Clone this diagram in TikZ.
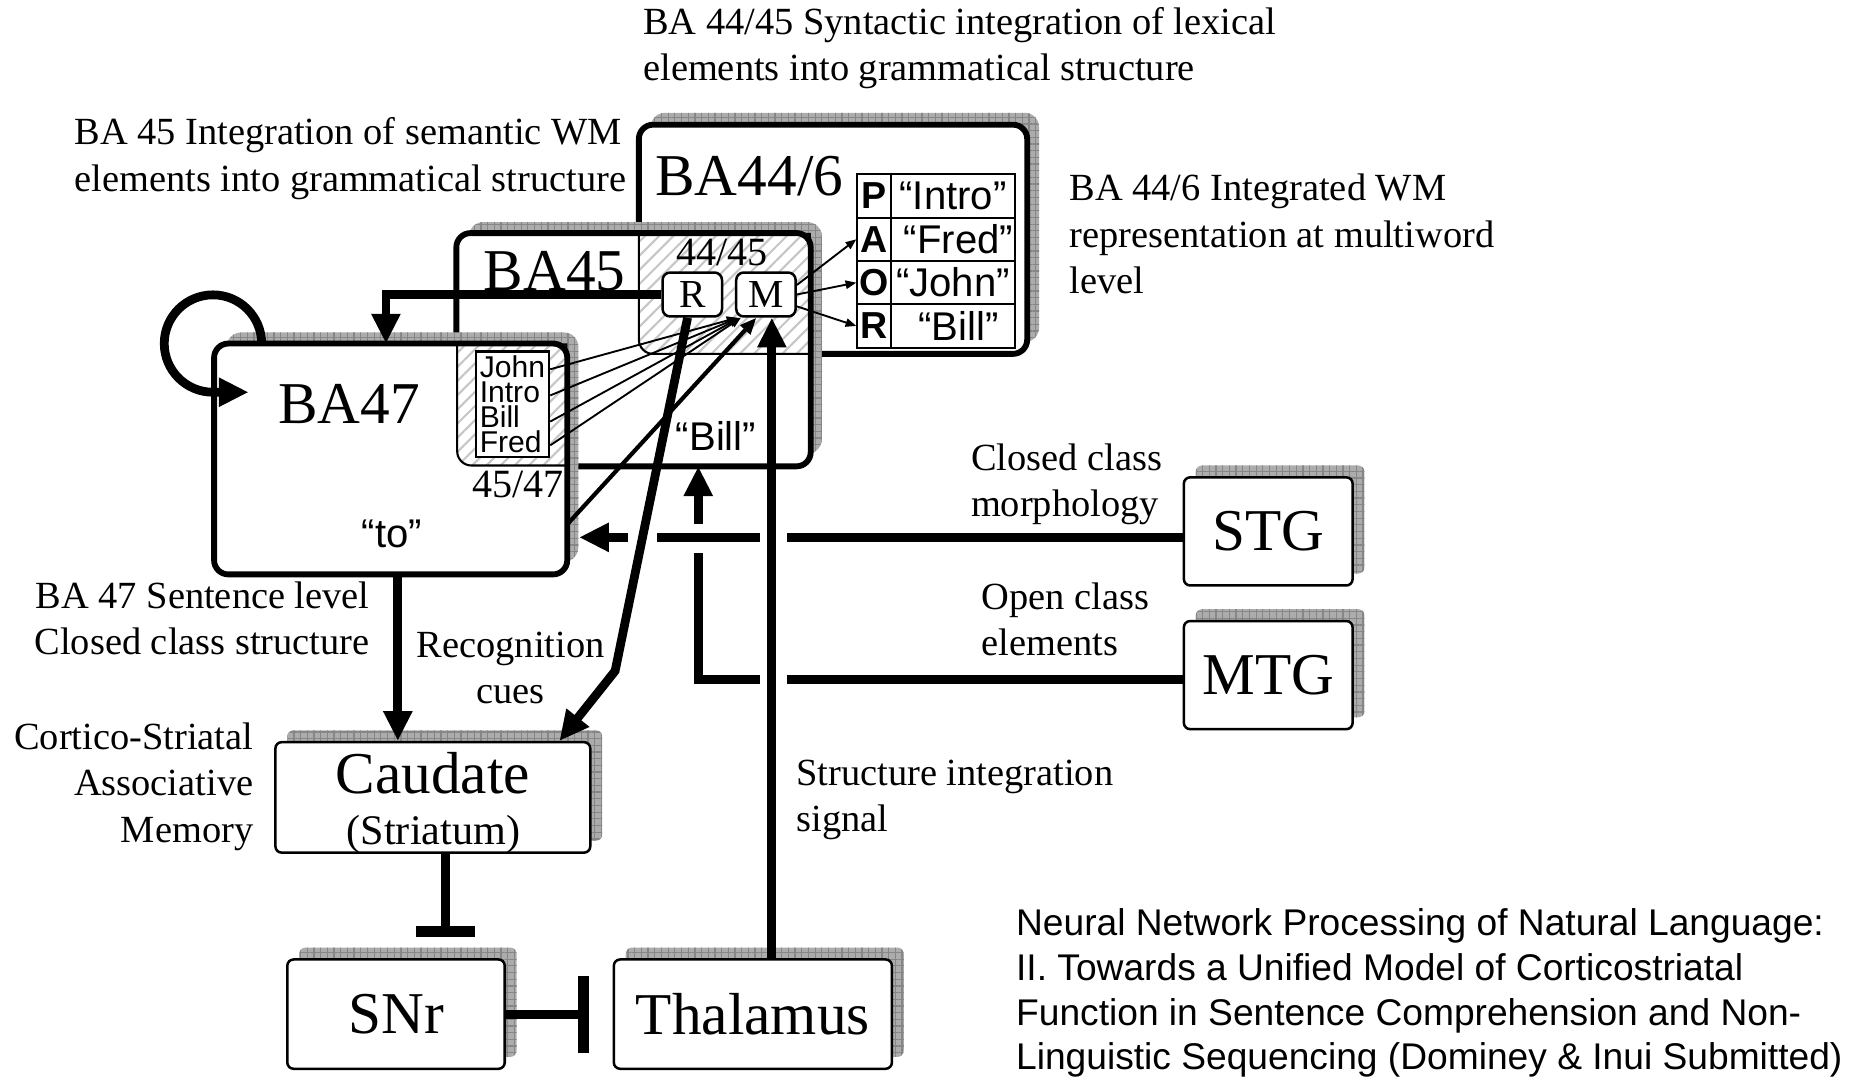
\documentclass[tikz,border=0pt]{standalone}
\usepackage{fontspec}
\setmainfont{Liberation Serif}
\newfontfamily\arialfont{Liberation Sans}
\usetikzlibrary{arrows.meta,patterns.meta,fit}

\begin{document}
\begin{tikzpicture}[x=0.01cm, y=-0.01cm,
    note/.style={font=\fontsize{9.2}{11.07}\selectfont, inner sep=0pt, align=left},
    area/.style={font=\fontsize{14.2}{17}\selectfont, inner sep=0pt},
    sanslabel/.style={font=\arialfont\fontsize{9.6}{11}\selectfont, inner sep=0pt},
    gridshadow/.style={
        preaction={fill=gray!65, transform canvas={shift={(0.1cm,0.1cm)}}},
        preaction={pattern={Hatch[distance=1.6pt,line width=0.3pt]}, pattern color=gray!95,
                   transform canvas={shift={(0.1cm,0.1cm)}}}},
    bigbox/.style={gridshadow, fill=white, rounded corners=3.4pt, inner sep=0pt},
    boxline/.style={line width=1.4pt, rounded corners=3.4pt},
    hatched/.style={preaction={fill=white}, pattern={Lines[angle=45,distance=2.4pt,line width=0.5pt]},
                    pattern color=gray!45, draw, line width=0.5pt},
    smallbox/.style={gridshadow, draw, fill=white, line width=0.6pt, rounded corners=1.5pt,
                     inner sep=0pt, font=\fontsize{14.2}{17}\selectfont},
    rmbox/.style={draw, fill=white, line width=0.6pt, rounded corners=1.8pt, inner sep=0pt,
                  minimum width=0.5cm, minimum height=0.37cm, font=\fontsize{9.5}{11}\selectfont},
    rolecell/.style={draw, line width=0.5pt, inner sep=0pt, minimum width=0.28cm, minimum height=0.365cm,
                     font=\arialfont\bfseries\fontsize{9}{10}\selectfont},
    wordcell/.style={draw, line width=0.5pt, inner sep=0pt, minimum width=1.05cm, minimum height=0.365cm,
                     font=\arialfont\fontsize{9.6}{11}\selectfont},
    wordbox/.style={draw, fill=white, line width=0.5pt, align=left, inner sep=1pt,
                    minimum width=0.61cm, minimum height=0.89cm, font=\arialfont\fontsize{7.2}{6}\selectfont},
    captiontext/.style={font=\arialfont\fontsize{8.9}{10.7}\selectfont, inner sep=0pt, align=left},
    bigarrow/.style={line width=2.1pt, -{Triangle[length=0.25cm,width=0.23cm]}},
    midarrow/.style={line width=1pt, -{Triangle[length=0.14cm,width=0.11cm]}},
    thinarrow/.style={line width=0.45pt, -{Triangle[length=0.09cm,width=0.07cm]}},
    inhibit/.style={line width=2.1pt, -{Bar[width=#1,line width=2.7pt]}},
    gapline/.style={white, line width=0.12cm}]

    \useasboundingbox (0,0) rectangle (1568,909);

    % Annotations
    \node[note, anchor=west] (note4445) at (541,40.5) {BA 44/45 Syntactic integration of lexical\\elements into grammatical structure};
    \node[note, anchor=west] (note45) at (62,133.5) {BA 45 Integration of semantic WM\\elements into grammatical structure};
    \node[note, anchor=west] (note446) at (900,197) {BA 44/6 Integrated WM\\representation at multiword\\level};
    \node[note, anchor=west] (noteclosed) at (817,408) {Closed class\\morphology};
    \node[note, anchor=west] (noteopen) at (826,521.5) {Open class\\elements};
    \node[note, anchor=east, align=right] (note47) at (312,520.5) {BA 47 Sentence level\\Closed class structure};
    \node[note, align=center] (noterecog) at (430,562.5) {Recognition\\cues};
    \node[note, anchor=east, align=right] (notecortico) at (214,662.5) {Cortico-Striatal\\Associative\\Memory};
    \node[note, anchor=west] (notestruct) at (670,673.5) {Structure integration\\signal};
    \node[captiontext, anchor=west] (title) at (855,836.5) {Neural Network Processing of Natural Language:\\II. Towards a Unified Model of Corticostriatal\\Function in Sentence Comprehension and Non-\\Linguistic Sequencing (Dominey \& Inui Submitted)};

    % BA44/6 with the role table
    \node[bigbox, draw, line width=1.4pt, fit={(538,105) (865,298)}] (ba446) {};
    \node[area] (ba446lbl) at (631,148) {BA44/6};
    \node[rolecell] (rowp) at (736,165) {P};
    \node[rolecell] (rowa) at (736,201.5) {A};
    \node[rolecell] (rowo) at (736,238) {O};
    \node[rolecell] (rowr) at (736,274.5) {R};
    \node[wordcell] (wordp) at (802.5,165) {“Intro”};
    \node[wordcell] (worda) at (802.5,201.5) {~“Fred”};
    \node[wordcell] (wordo) at (802.5,238) {“John”};
    \node[wordcell] (wordr) at (802.5,274.5) {~“Bill”};

    % BA45 and its overlap with BA44/6
    \node[bigbox, fit={(385,197) (682,392)}] (ba45) {};
    \draw[hatched] (538,197) -- (682,197) -- (682,298) -- (550,298) arc[start angle=90, end angle=180, radius=12] -- cycle;
    \draw[boxline] (ba45.south west) rectangle (ba45.north east);
    \node[area] (ba45lbl) at (467,228) {BA45};
    \node[note] (lbl4445) at (608,213) {\fontsize{9.6}{11}\selectfont 44/45};
    \node[rmbox] (r) at (583,248) {R};
    \node[rmbox] (m) at (645,248) {M};
    \node[sanslabel] (billlbl) at (603,367) {“Bill”};

    % BA47 and its overlap with BA45
    \node[bigbox, fit={(181,290) (477,483)}] (ba47) {};
    \draw[hatched] (385,290) -- (477,290) -- (477,392) -- (397,392) arc[start angle=90, end angle=180, radius=12] -- cycle;
    \draw[boxline] (ba47.south west) rectangle (ba47.north east);
    \node[area] (ba47lbl) at (294,340) {BA47};
    \node[wordbox] (words) at (431.5,340.5) {John\\Intro\\Bill\\Fred};
    \node[note] (lbl4547) at (436,408) {\fontsize{9.6}{11}\selectfont 45/47};
    \node[sanslabel] (tolbl) at (330,450) {“to”};

    % Subcortical and temporal boxes
    \node[smallbox, minimum width=2.65cm, minimum height=0.93cm] (caudate) at (364.5,671.5) {};
    \node[area] (caudatelbl) at (364.5,651) {Caudate};
    \node[note, font=\fontsize{10.1}{12}\selectfont] (striatum) at (365,703) {(Striatum)};
    \node[smallbox, minimum width=1.83cm, minimum height=0.92cm] (snr) at (333.5,854) {SNr};
    \node[smallbox, minimum width=2.34cm, minimum height=0.92cm] (thal) at (634,854) {Thalamus};
    \node[smallbox, minimum width=1.42cm, minimum height=0.91cm] (stg) at (1068,447.5) {STG};
    \node[smallbox, minimum width=1.42cm, minimum height=0.91cm] (mtg) at (1068,568.5) {MTG};

    % Thin bindings
    \draw[thinarrow] ([yshift=0.08cm]m.east) -- (rowa.west);
    \draw[thinarrow] (m.east) -- (rowo.west);
    \draw[thinarrow] ([yshift=-0.1cm]m.east) -- (rowr.west);
    \draw[thinarrow] ([yshift=0.295cm]words.east) -- ([xshift=0.02cm]m.south west);
    \draw[thinarrow] ([yshift=0.075cm]words.east) -- ([xshift=0.03cm]m.south west);
    \draw[thinarrow] ([yshift=-0.145cm]words.east) -- ([xshift=0.04cm]m.south west);
    \draw[thinarrow] ([yshift=-0.345cm]words.east) -- ([xshift=0.05cm]m.south west);
    \draw[midarrow] ([yshift=-0.55cm]ba47.east) -- ([xshift=-0.08cm]m.south);

    % Loops and cortical pathways
    \draw[bigarrow] ([xshift=0.4cm]ba47.north west) arc[start angle=0, end angle=-270, radius=41] -- ++(30,0);
    \draw[bigarrow] (r.west) -| ([xshift=-0.04cm]ba47.north);
    \draw[bigarrow] ([xshift=0.06cm]ba47.south) -- ([xshift=0.06cm]ba47.south |- caudate.north);

    % Temporal inputs
    \draw[bigarrow] ([yshift=-0.04cm]mtg.west) -| ([xshift=0.545cm]ba45.south);
    \draw[gapline] (588,441) -- (588,466);
    \draw[bigarrow, shorten >=0.1cm] ([yshift=-0.05cm]stg.west) -- ([yshift=-0.05cm]stg.west -| ba47.east);
    \draw[gapline] (529,454) -- (553,454);
    \draw[gapline] (640,454) -- (663,454);
    \draw[gapline] (640,572) -- (663,572);

    % Recognition cues and integration signal
    \coordinate (bend) at (518,565);
    \draw[bigarrow] ([xshift=-0.04cm]r.south) -- (bend) -- ([xshift=-0.27cm]caudate.north east);
    \draw[bigarrow] ([xshift=0.05cm]m.south |- thal.north) -- ([xshift=0.05cm]m.south);

    % Inhibitory links
    \draw[inhibit=0.5cm, shorten >=0.18cm] ([xshift=0.105cm]caudate.south) -- ([xshift=0.105cm]caudate.south |- snr.north);
    \draw[inhibit=0.65cm, shorten >=0.2cm] (snr.east) -- (thal.west);
\end{tikzpicture}
\end{document}
